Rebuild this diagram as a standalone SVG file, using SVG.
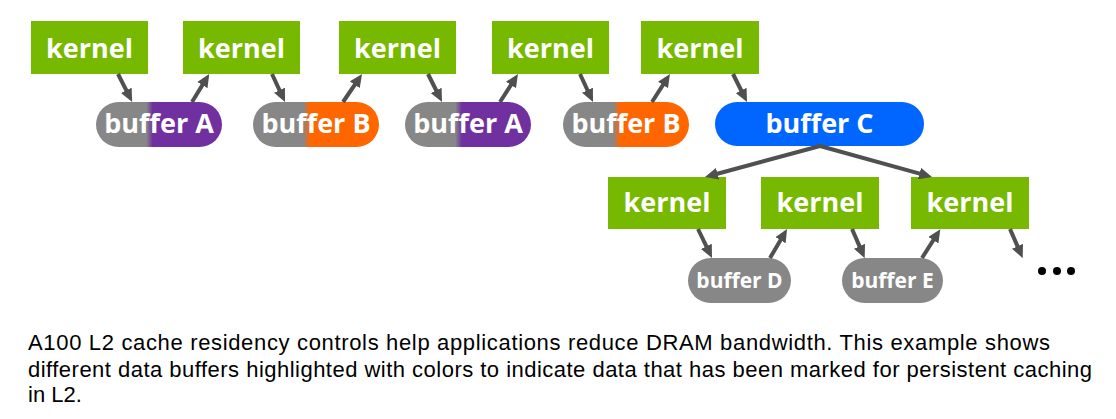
<svg xmlns="http://www.w3.org/2000/svg" width="1116" height="419" viewBox="0 0 1116 419">
<style>
.k{fill:#76B900}
.kt{font-family:"Open Sans","DejaVu Sans",sans-serif;font-weight:bold;font-size:27px;fill:#fff;text-anchor:middle}
.bt{font-family:"Open Sans","DejaVu Sans",sans-serif;font-weight:bold;font-size:27px;fill:#fff;text-anchor:middle}
.bs{font-family:"Open Sans","DejaVu Sans",sans-serif;font-weight:bold;font-size:21px;fill:#fff;text-anchor:middle}
.gray{fill:#878787}
.c line{stroke:#505050;stroke-width:4;marker-end:url(#ah)}
.cap{font-family:"Liberation Sans",Arial,sans-serif;font-size:22px;fill:#000}
</style>
<defs>
<marker id="ah" viewBox="0 0 13 12" refX="4" refY="6" markerWidth="13" markerHeight="12" markerUnits="userSpaceOnUse" orient="auto">
<path d="M0,0 L13,6 L0,12 z" fill="#505050"/>
</marker>
<linearGradient id="gA" x1="0" y1="0" x2="1" y2="0">
<stop offset="0.40" stop-color="#878787"/><stop offset="0.45" stop-color="#7030A0"/>
</linearGradient>
<linearGradient id="gB" x1="0" y1="0" x2="1" y2="0">
<stop offset="0.40" stop-color="#878787"/><stop offset="0.45" stop-color="#FF6600"/>
</linearGradient>
</defs>
<rect width="1116" height="419" fill="#fff"/>

<g id="kernel1"><rect class="k" x="31" y="21" width="117" height="53"/><text class="kt" x="89.5" y="58">kernel</text></g>
<g id="kernel2"><rect class="k" x="183" y="21" width="117" height="53"/><text class="kt" x="241.5" y="58">kernel</text></g>
<g id="kernel3"><rect class="k" x="339" y="21" width="117" height="53"/><text class="kt" x="397.5" y="58">kernel</text></g>
<g id="kernel4"><rect class="k" x="492" y="21" width="117" height="53"/><text class="kt" x="550.5" y="58">kernel</text></g>
<g id="kernel5"><rect class="k" x="641" y="21" width="118" height="53"/><text class="kt" x="700" y="58">kernel</text></g>

<g id="bufferA1"><rect x="96" y="102" width="126" height="45" rx="22.5" fill="url(#gA)"/><text class="bt" x="159" y="133">buffer A</text></g>
<g id="bufferB1"><rect x="253" y="102" width="126" height="45" rx="22.5" fill="url(#gB)"/><text class="bt" x="316" y="133">buffer B</text></g>
<g id="bufferA2"><rect x="405" y="102" width="126" height="45" rx="22.5" fill="url(#gA)"/><text class="bt" x="468" y="133">buffer A</text></g>
<g id="bufferB2"><rect x="563" y="102" width="126" height="45" rx="22.5" fill="url(#gB)"/><text class="bt" x="626" y="133">buffer B</text></g>
<g id="bufferC"><rect x="715" y="102" width="209" height="44" rx="22" fill="#0066FF"/><text class="bt" x="819.5" y="133">buffer C</text></g>

<g id="kernel6"><rect class="k" x="608" y="177" width="118" height="52"/><text class="kt" x="667" y="212">kernel</text></g>
<g id="kernel7"><rect class="k" x="761" y="177" width="118" height="52"/><text class="kt" x="820" y="212">kernel</text></g>
<g id="kernel8"><rect class="k" x="911" y="177" width="118" height="52"/><text class="kt" x="970" y="212">kernel</text></g>

<g id="bufferD"><rect class="gray" x="688" y="258" width="103" height="45" rx="22.5"/><text class="bs" x="739.5" y="288">buffer D</text></g>
<g id="bufferE"><rect class="gray" x="842" y="258" width="101" height="45" rx="22.5"/><text class="bs" x="892.5" y="288">buffer E</text></g>

<g id="ellipsis" fill="#000"><circle cx="1042" cy="271" r="4"/><circle cx="1057" cy="271" r="4"/><circle cx="1071" cy="271" r="4"/></g>

<g id="connectors" class="c">
<line x1="118" y1="74" x2="128.1" y2="93.9"/>
<line x1="192" y1="102" x2="204.5" y2="81.6"/>
<line x1="272" y1="74" x2="281.2" y2="93.8"/>
<line x1="343" y1="102" x2="357" y2="81.5"/>
<line x1="428" y1="74" x2="438" y2="94"/>
<line x1="500" y1="102" x2="513.1" y2="81.6"/>
<line x1="580" y1="74" x2="589.2" y2="93.8"/>
<line x1="652" y1="102" x2="665.1" y2="81.6"/>
<line x1="733" y1="74" x2="743" y2="94"/>
<line x1="820" y1="146" x2="713.7" y2="174.7" stroke-linecap="round"/>
<line x1="820" y1="146" x2="923.3" y2="174.6" stroke-linecap="round"/>
<line x1="698" y1="229" x2="708.1" y2="249.9"/>
<line x1="770" y1="258" x2="782.5" y2="236.8"/>
<line x1="852" y1="229" x2="861.1" y2="249.9"/>
<line x1="922" y1="258" x2="935.5" y2="236.8"/>
<line x1="1010" y1="229" x2="1019.1" y2="249.9"/>
</g>

<g id="caption" class="cap">
<text x="28" y="350" textLength="1022" lengthAdjust="spacing">A100 L2 cache residency controls help applications reduce DRAM bandwidth. This example shows</text>
<text x="28" y="376.5" textLength="1064" lengthAdjust="spacing">different data buffers highlighted with colors to indicate data that has been marked for persistent caching</text>
<text x="28" y="401.5">in L2.</text>
</g>
</svg>
